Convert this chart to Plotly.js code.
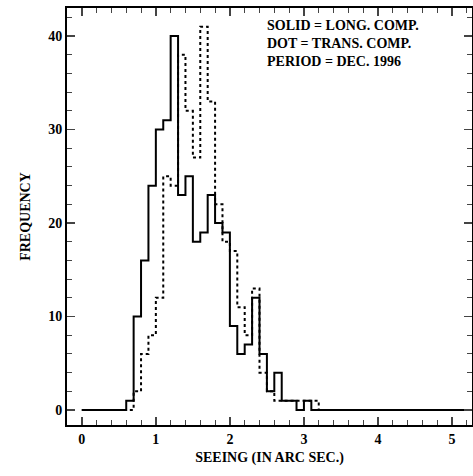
<!DOCTYPE html>
<html><head><script src="https://cdn.plot.ly/plotly-3.0.1.min.js"></script>
<style>body{margin:0}</style></head><body><div id="c" style="width:473px;height:476px"></div>
<script>
// bins of width 0.1 starting at 0.6 (zeros elsewhere, 0 to 5.3)
const firstBin = 0.6;
const binWidth = 0.1;
const longComp  = [1,10,16,24,30,31,40,23,25,18,19,23,20,19,9,6,7,12,6,2,4,1,1,0,1,0];
const transComp = [0,2,6,8,12,25,24,38,32,27,41,33,22,18,17,11,8,13,4,2,1,1,1,1,1,1];
const xTicks = [0,1,2,3,4,5];
const yTicks = [0,10,20,30,40];

function steps(vals){
  const xs=[], ys=[];
  for(let x=0;x<firstBin-1e-9;x+=binWidth){xs.push(x);ys.push(0);}
  vals.forEach((v,i)=>{xs.push(firstBin+i*binWidth);ys.push(v);});
  let x=firstBin+vals.length*binWidth;
  for(;x<5.35;x+=binWidth){xs.push(x);ys.push(0);}
  return {xs,ys};
}
const a=steps(longComp), b=steps(transComp);
const font={family:'Liberation Serif, DejaVu Serif, serif',size:14,color:'#000',weight:'bold'};
Plotly.newPlot('c',[
 {x:b.xs,y:b.ys,mode:'lines',line:{shape:'hv',color:'#000',width:2,dash:'dot'},hoverinfo:'none'},
 {x:a.xs,y:a.ys,mode:'lines',line:{shape:'hv',color:'#000',width:2},hoverinfo:'none'}
],{
 width:473,height:476,margin:{l:67,r:1,t:8,b:51},showlegend:false,
 paper_bgcolor:'#fff',plot_bgcolor:'#fff',font:font,
 xaxis:{range:[-0.2,5.27],tickvals:xTicks,ticks:'inside',ticklen:8,tickwidth:1.5,mirror:'allticks',
  showline:true,linewidth:2,linecolor:'#000',showgrid:false,zeroline:false,
  minor:{dtick:0.2,ticks:'inside',ticklen:5,tickwidth:1},
  title:{text:'SEEING (IN ARC SEC.)',font:font,standoff:6}},
 yaxis:{range:[-1.6,43],tickvals:yTicks,ticks:'inside',ticklen:8,tickwidth:1.5,mirror:'allticks',
  showline:true,linewidth:2,linecolor:'#000',showgrid:false,zeroline:false,
  minor:{dtick:2,ticks:'inside',ticklen:5,tickwidth:1},
  title:{text:'FREQUENCY',font:font,standoff:14}},
 annotations:[
  {xref:'paper',yref:'paper',x:0.49,y:0.98,xanchor:'left',yanchor:'top',align:'left',showarrow:false,
   text:'SOLID = LONG. COMP.<br>DOT = TRANS. COMP.<br>PERIOD = DEC. 1996',font:font}
 ]
},{staticPlot:true});
</script></body></html>
